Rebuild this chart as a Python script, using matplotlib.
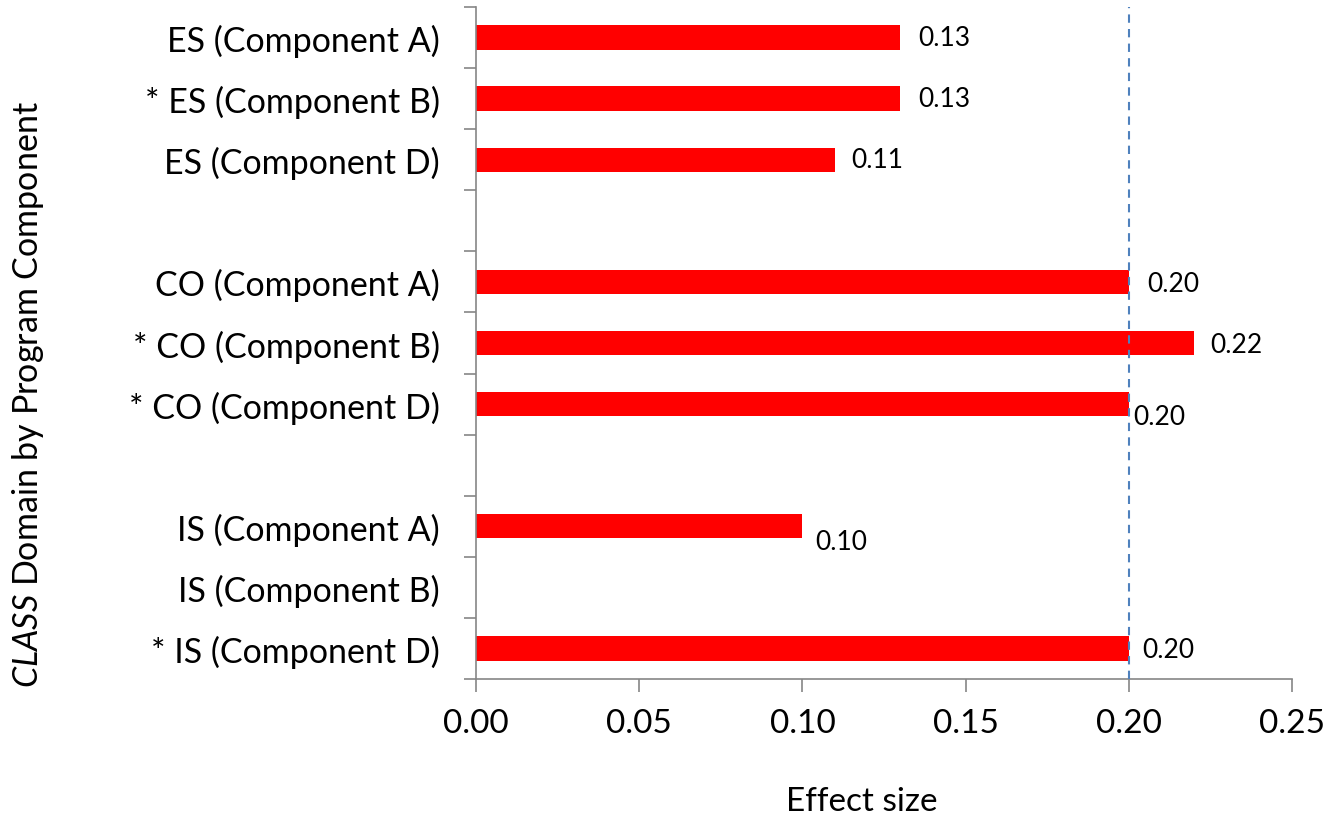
import matplotlib
matplotlib.use("Agg")
import matplotlib.pyplot as plt
import numpy as np

plt.rcParams['font.family'] = ['Lato', 'DejaVu Sans']
plt.rcParams['mathtext.fontset'] = 'custom'
plt.rcParams['mathtext.rm'] = 'Lato'
plt.rcParams['mathtext.it'] = 'Lato:italic'

categories = ["ES (Component A)", "* ES (Component B)", "ES (Component D)", "",
              "CO (Component A)", "* CO (Component B)", "* CO (Component D)", "",
              "IS (Component A)", "IS (Component B)", "* IS (Component D)"]
values = [0.13, 0.13, 0.11, None, 0.20, 0.22, 0.20, None, 0.10, None, 0.20]
value_labels = ["0.13", "0.13", "0.11", "", "0.20", "0.22", "0.20", "", "0.10", "", "0.20"]
reference_value = 0.20
xticks = [0.00, 0.05, 0.10, 0.15, 0.20, 0.25]

# label offsets in points (style only)
label_offsets = [(13, 0), (13, 0), (12, 0), (0, 0), (13, -1), (12, -1), (3, -9), (0, 0), (9, -11), (0, 0), (10, -1)]

fig = plt.figure(figsize=(13.28, 8.2), dpi=100)
ax = fig.add_axes([476/1328, 1-680/820, (1292-476)/1328, (680-8)/820])

ypos = np.arange(len(categories))
for y, v in zip(ypos, values):
    if v is not None:
        ax.barh(y, v, height=0.4, color='#FF0000', zorder=2)

ax.axvline(reference_value, color='#4F81BD', linestyle=(0, (4, 3)), linewidth=1.5, zorder=3)

for y, v, lab, (dx, dy) in zip(ypos, values, value_labels, label_offsets):
    if v is not None:
        ax.annotate(lab, (v, y), xytext=(dx, dy), textcoords='offset points',
                    ha='left', va='center', fontsize=19, color='black')

ax.set_xlim(0, 0.25)
ax.set_ylim(len(categories) - 0.5, -0.5)
ax.set_xticks(xticks)
ax.set_xticklabels([f"{t:.2f}" for t in xticks], fontsize=24)
ax.set_yticks(ypos)
ax.set_yticklabels(categories, fontsize=24.5)
ax.tick_params(axis='y', which='major', length=0, pad=26)
ax.set_yticks(np.arange(-0.5, len(categories)), minor=True)
ax.tick_params(axis='y', which='minor', length=9, width=1.2, color='#868686', direction='out')
ax.tick_params(axis='x', which='major', length=9, width=1.2, color='#868686', direction='out', pad=12)

for s in ['top', 'right']:
    ax.spines[s].set_visible(False)
for s in ['left', 'bottom']:
    ax.spines[s].set_color('#868686')
    ax.spines[s].set_linewidth(1.2)

fig.text(862/1328, 1-802/820, "Effect size", ha='center', va='center', fontsize=24)
fig.text(28/1328, 1-395/820, r"$\mathit{CLASS}$ Domain by Program Component", rotation=90,
         ha='center', va='center', fontsize=24.5)

fig.savefig("out.png", dpi=100)
